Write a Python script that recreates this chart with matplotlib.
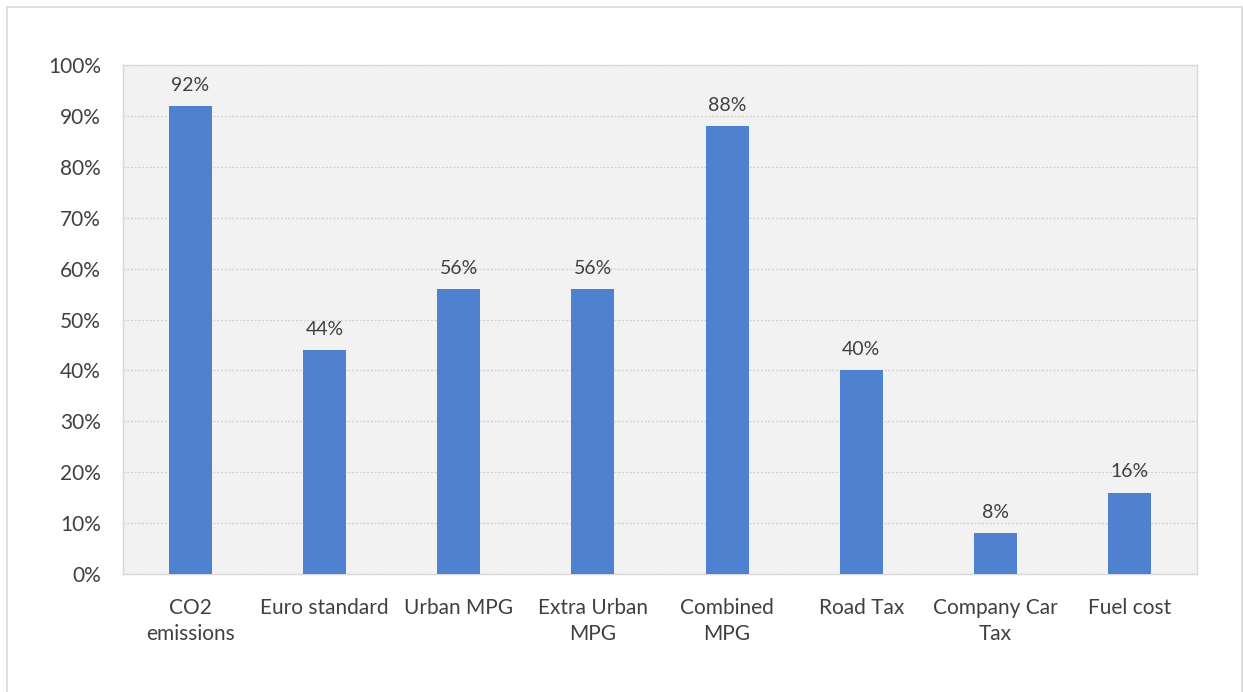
import matplotlib.pyplot as plt
from matplotlib.patches import Rectangle
from matplotlib.ticker import PercentFormatter

plt.rcParams['font.family'] = ['Lato', 'DejaVu Sans']

categories = ['CO2\nemissions', 'Euro standard', 'Urban MPG', 'Extra Urban\nMPG',
              'Combined\nMPG', 'Road Tax', 'Company Car\nTax', 'Fuel cost']
shares = [92, 44, 56, 56, 88, 40, 8, 16]

fig = plt.figure(figsize=(12.43, 6.92), dpi=100)
# light frame around the chart (bottom edge runs off the canvas)
fig.patches.append(Rectangle((7 / 1243, -0.01), 1235 / 1243, 1.01 - 7 / 692,
                             transform=fig.transFigure, fill=False,
                             edgecolor='#d9d9d9', linewidth=1.2))

ax = fig.add_axes([123 / 1243, 1 - 574 / 692, (1197 - 123) / 1243, (574 - 65) / 692])
ax.set_facecolor('#f2f2f2')

x = range(len(categories))
bars = ax.bar(x, shares, width=0.32, color='#4f81d0', zorder=3)
for b, v in zip(bars, shares):
    ax.text(b.get_x() + b.get_width() / 2, v + 2.4, f'{v}%', ha='center', va='bottom',
            fontsize=14, color='#404040')

ax.set_xlim(-0.5, len(categories) - 0.5)
ax.set_ylim(0, 100)
ax.set_yticks(range(0, 101, 10))
ax.yaxis.set_major_formatter(PercentFormatter(decimals=0))
ax.set_xticks(list(x))
ax.set_xticklabels(categories, fontsize=15, color='#404040', linespacing=1.42)
ax.tick_params(axis='y', labelsize=15, labelcolor='#404040', length=0, pad=16)
ax.tick_params(axis='x', length=0, pad=17)

ax.grid(axis='y', linestyle=(0, (1.5, 1.5)), color='#cfcfcf', linewidth=0.9, zorder=0)
for s in ax.spines.values():
    s.set_color('#d9d9d9')
    s.set_linewidth(1)

fig.savefig('out.png', dpi=100)
